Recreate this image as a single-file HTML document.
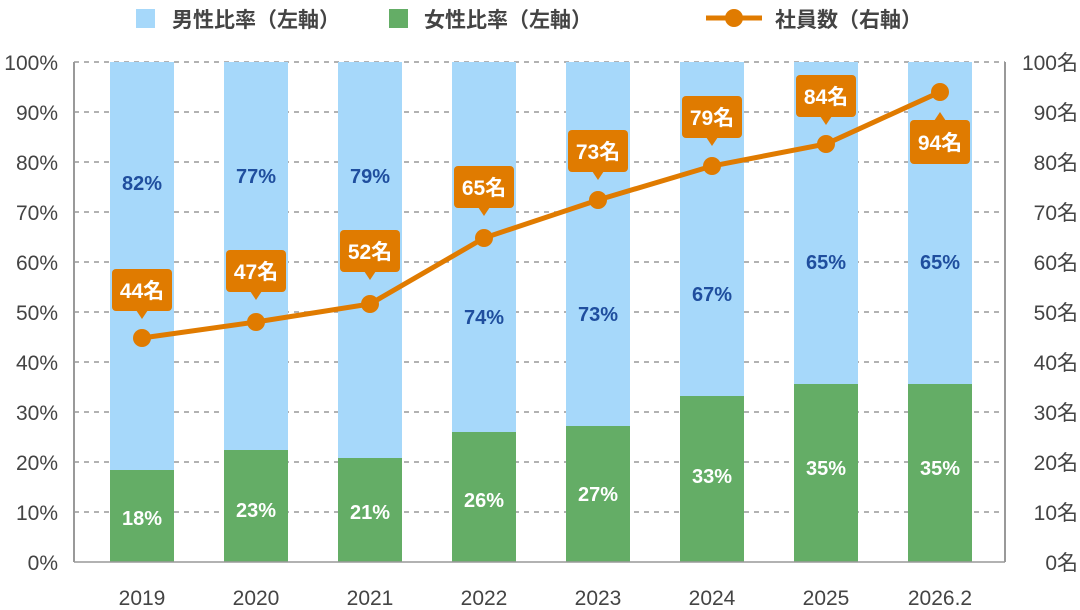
<!DOCTYPE html>
<html><head><meta charset="utf-8"><style>
html,body{margin:0;padding:0;background:#fff;}
svg{display:block;font-family:"Liberation Sans","Noto Sans CJK JP",sans-serif;}
</style></head><body>
<svg width="1080" height="610" viewBox="0 0 1080 610" xmlns="http://www.w3.org/2000/svg">
<rect x="136" y="9" width="19" height="19" fill="#a6d8fa"/>
<text x="172" y="27" font-size="21" font-weight="bold" fill="#444">男性比率（左軸）</text>
<rect x="389" y="9" width="19" height="19" fill="#64ad66"/>
<text x="424" y="27" font-size="21" font-weight="bold" fill="#444">女性比率（左軸）</text>
<line x1="706" y1="18" x2="762" y2="18" stroke="#e07b00" stroke-width="5"/>
<circle cx="734" cy="18" r="9" fill="#e07b00"/>
<text x="775" y="27" font-size="21" font-weight="bold" fill="#444">社員数（右軸）</text>
<g stroke="#999" stroke-width="1.5" stroke-dasharray="5,5">
<line x1="74" y1="62" x2="1005" y2="62"/><line x1="74" y1="112" x2="1005" y2="112"/>
<line x1="74" y1="162" x2="1005" y2="162"/><line x1="74" y1="212" x2="1005" y2="212"/>
<line x1="74" y1="262" x2="1005" y2="262"/><line x1="74" y1="312" x2="1005" y2="312"/>
<line x1="74" y1="362" x2="1005" y2="362"/><line x1="74" y1="412" x2="1005" y2="412"/>
<line x1="74" y1="462" x2="1005" y2="462"/><line x1="74" y1="512" x2="1005" y2="512"/>
</g>
<g fill="#a6d8fa">
<rect x="110" y="62" width="64" height="500"/><rect x="224" y="62" width="64" height="500"/>
<rect x="338" y="62" width="64" height="500"/><rect x="452" y="62" width="64" height="500"/>
<rect x="566" y="62" width="64" height="500"/><rect x="680" y="62" width="64" height="500"/>
<rect x="794" y="62" width="64" height="500"/><rect x="908" y="62" width="64" height="500"/>
</g>
<g fill="#64ad66">
<rect x="110" y="470" width="64" height="92"/><rect x="224" y="450" width="64" height="112"/>
<rect x="338" y="458" width="64" height="104"/><rect x="452" y="432" width="64" height="130"/>
<rect x="566" y="426" width="64" height="136"/><rect x="680" y="396" width="64" height="166"/>
<rect x="794" y="384" width="64" height="178"/><rect x="908" y="384" width="64" height="178"/>
</g>
<line x1="74" y1="62" x2="74" y2="562" stroke="#999" stroke-width="2"/>
<line x1="1005" y1="62" x2="1005" y2="562" stroke="#999" stroke-width="2"/>
<line x1="74" y1="562" x2="1005" y2="562" stroke="#999" stroke-width="1.5"/>
<g font-size="20" font-weight="bold" fill="#1f4e9e" text-anchor="middle">
<text x="142" y="190">82%</text><text x="256" y="183">77%</text><text x="370" y="183">79%</text>
<text x="484" y="324">74%</text><text x="598" y="321">73%</text><text x="712" y="301">67%</text>
<text x="826" y="269">65%</text><text x="940" y="269">65%</text>
</g>
<g font-size="20" font-weight="bold" fill="#fff" text-anchor="middle">
<text x="142" y="525">18%</text><text x="256" y="517">23%</text><text x="370" y="519">21%</text>
<text x="484" y="507">26%</text><text x="598" y="501">27%</text><text x="712" y="483">33%</text>
<text x="826" y="475">35%</text><text x="940" y="475">35%</text>
</g>
<g font-size="21" fill="#444" text-anchor="end">
<text x="58" y="70">100%</text><text x="58" y="120">90%</text><text x="58" y="170">80%</text>
<text x="58" y="220">70%</text><text x="58" y="270">60%</text><text x="58" y="320">50%</text>
<text x="58" y="370">40%</text><text x="58" y="420">30%</text><text x="58" y="470">20%</text>
<text x="58" y="520">10%</text><text x="58" y="570">0%</text>
</g>
<g font-size="21" fill="#444" text-anchor="end">
<text x="1078" y="70">100名</text><text x="1078" y="120">90名</text><text x="1078" y="170">80名</text>
<text x="1078" y="220">70名</text><text x="1078" y="270">60名</text><text x="1078" y="320">50名</text>
<text x="1078" y="370">40名</text><text x="1078" y="420">30名</text><text x="1078" y="470">20名</text>
<text x="1078" y="520">10名</text><text x="1078" y="570">0名</text>
</g>
<g font-size="21" fill="#444" text-anchor="middle">
<text x="142" y="605">2019</text><text x="256" y="605">2020</text><text x="370" y="605">2021</text>
<text x="484" y="605">2022</text><text x="598" y="605">2023</text><text x="712" y="605">2024</text>
<text x="826" y="605">2025</text><text x="940" y="605">2026.2</text>
</g>
<polyline points="142,338 256,322 370,304 484,238 598,200 712,166 826,144 940,92" fill="none" stroke="#e07b00" stroke-width="5"/>
<g fill="#e07b00">
<circle cx="142" cy="338" r="9"/><circle cx="256" cy="322" r="9"/><circle cx="370" cy="304" r="9"/>
<circle cx="484" cy="238" r="9"/><circle cx="598" cy="200" r="9"/><circle cx="712" cy="166" r="9"/>
<circle cx="826" cy="144" r="9"/><circle cx="940" cy="92" r="9"/>
</g>
<g fill="#e07b00">
<rect x="112" y="269" width="60" height="42" rx="4"/><path d="M136,310 L148,310 L142,319Z"/>
<rect x="226" y="250" width="60" height="42" rx="4"/><path d="M250,291 L262,291 L256,300Z"/>
<rect x="340" y="230" width="60" height="42" rx="4"/><path d="M364,271 L376,271 L370,280Z"/>
<rect x="454" y="166" width="60" height="42" rx="4"/><path d="M478,207 L490,207 L484,216Z"/>
<rect x="568" y="130" width="60" height="42" rx="4"/><path d="M592,171 L604,171 L598,180Z"/>
<rect x="682" y="96" width="60" height="42" rx="4"/><path d="M706,137 L718,137 L712,146Z"/>
<rect x="796" y="75" width="60" height="42" rx="4"/><path d="M820,116 L832,116 L826,125Z"/>
<rect x="910" y="120" width="60" height="44" rx="4"/><path d="M934,121 L946,121 L940,112Z"/>
</g>
<g font-size="21" font-weight="bold" fill="#fff" text-anchor="middle">
<text x="142" y="298">44名</text><text x="256" y="279">47名</text><text x="370" y="259">52名</text>
<text x="484" y="195">65名</text><text x="598" y="159">73名</text><text x="712" y="125">79名</text>
<text x="826" y="104">84名</text><text x="940" y="150">94名</text>
</g>
</svg>
</body></html>
